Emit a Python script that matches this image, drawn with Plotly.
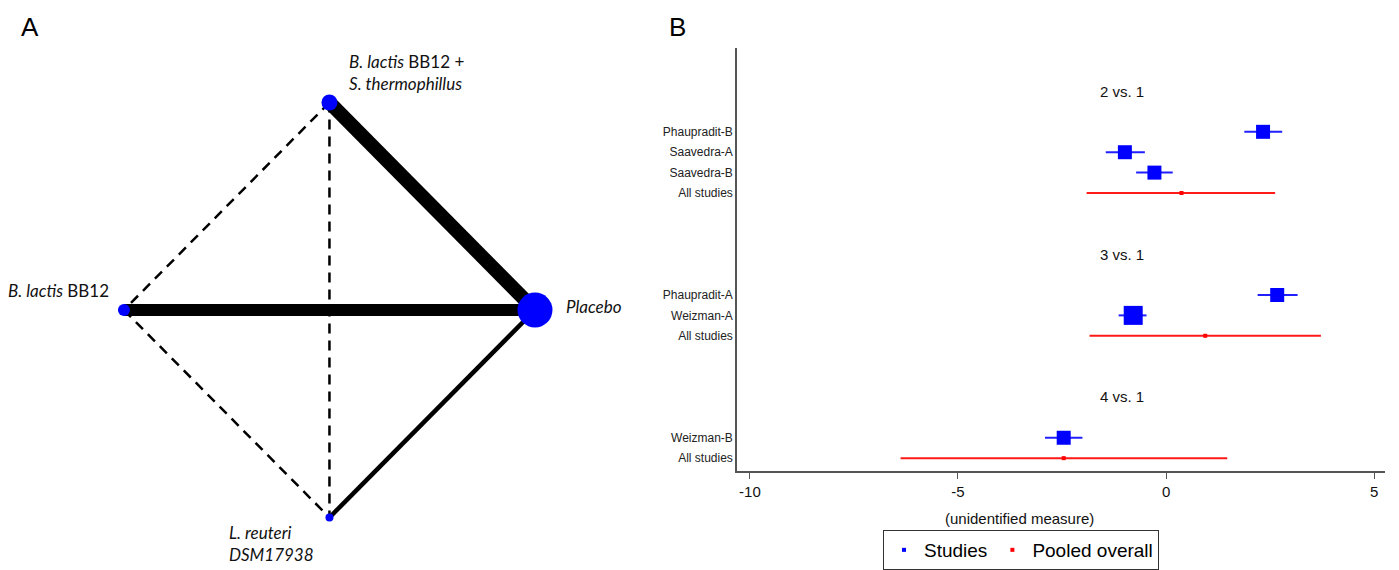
import plotly.graph_objects as go

# ---------------- Panel A: treatment network ----------------
node_names = ["B. lactis BB12 + S. thermophillus", "B. lactis BB12", "Placebo", "L. reuteri DSM17938"]
node_x = [0.0, -1.0, 1.0, 0.0]
node_y = [1.0, 0.0, 0.0, -1.0]
node_size = [16, 12, 35, 8]

# edges: (from node, to node, line width, dashed = indirect comparison)
edge_from = [0, 1, 3, 0, 0, 1]
edge_to = [2, 2, 2, 1, 3, 3]
edge_width = [14, 12, 4.5, 2.5, 2.5, 2.5]
edge_dashed = [False, False, False, True, True, True]

# ---------------- Panel B: forest plot ----------------
study_labels = ["Phaupradit-B", "Saavedra-A", "Saavedra-B",
                "Phaupradit-A", "Weizman-A", "Weizman-B"]
study_rows = [2, 3, 4, 10, 11, 17]
study_est = [2.33, -0.99, -0.28, 2.67, -0.79, -2.46]
study_lo = [1.88, -1.45, -0.72, 2.20, -1.14, -2.91]
study_hi = [2.79, -0.51, 0.16, 3.16, -0.47, -2.01]
study_marker = [14, 14, 14, 14, 19, 14]

pooled_rows = [5, 12, 18]
pooled_est = [0.37, 0.94, -2.46]
pooled_lo = [-1.91, -1.84, -6.38]
pooled_hi = [2.62, 3.72, 1.47]

group_titles = ["2 vs. 1", "3 vs. 1", "4 vs. 1"]
group_rows = [0, 8, 15]

x_ticks = [-10, -5, 0, 5]
x_tick_text = ["-10", "-5", "0", "5"]

W, H = 1399, 570


def px(x):
    return x / W


def py(y):
    return 1 - y / H


fig = go.Figure()

# network edges
for a, b, w, d in zip(edge_from, edge_to, edge_width, edge_dashed):
    fig.add_trace(go.Scatter(
        x=[node_x[a], node_x[b]], y=[node_y[a], node_y[b]],
        mode="lines", xaxis="x", yaxis="y", showlegend=False, hoverinfo="skip",
        line=dict(color="black", width=w, dash="10px,7px" if d else "solid"),
    ))

# network nodes
fig.add_trace(go.Scatter(
    x=node_x, y=node_y, mode="markers", xaxis="x", yaxis="y",
    text=node_names, hoverinfo="text", showlegend=False,
    marker=dict(color="#0000ff", size=node_size, opacity=1, line=dict(width=0)),
))

# individual studies
fig.add_trace(go.Scatter(
    x=study_est, y=study_rows, mode="markers", xaxis="x2", yaxis="y2",
    showlegend=False,
    marker=dict(symbol="square", color="#0000ff", size=study_marker, opacity=1, line=dict(width=0)),
    error_x=dict(type="data", symmetric=False,
                 array=[h - e for h, e in zip(study_hi, study_est)],
                 arrayminus=[e - l for e, l in zip(study_est, study_lo)],
                 color="#2020ff", thickness=2, width=0),
))

# pooled estimates
fig.add_trace(go.Scatter(
    x=pooled_est, y=pooled_rows, mode="markers", xaxis="x2", yaxis="y2",
    showlegend=False,
    marker=dict(symbol="square", color="#ff0000", size=4, opacity=1, line=dict(width=0)),
    error_x=dict(type="data", symmetric=False,
                 array=[h - e for h, e in zip(pooled_hi, pooled_est)],
                 arrayminus=[e - l for e, l in zip(pooled_est, pooled_lo)],
                 color="#ff1a1a", thickness=2, width=0),
))

# legend entries
fig.add_trace(go.Scatter(x=[None], y=[None], mode="markers", xaxis="x2", yaxis="y2",
                         name="Studies", marker=dict(symbol="square", color="#0000ff", size=4, opacity=1)))
fig.add_trace(go.Scatter(x=[None], y=[None], mode="markers", xaxis="x2", yaxis="y2",
                         name="Pooled overall", marker=dict(symbol="square", color="#ff0000", size=4, opacity=1)))

annotations = []

# panel letters
for letter, x in (("A", 30), ("B", 677)):
    annotations.append(dict(text=letter, x=px(x), y=py(27), xref="paper", yref="paper",
                            showarrow=False, xanchor="center", yanchor="middle",
                            font=dict(family="Liberation Sans", size=26, color="black")))

# node labels
node_font = dict(family="Lato", size=17, color="#111")
node_labels = [
    dict(text="<i>B. lactis</i> BB12 +<br><i>S. thermophillus</i>", x=px(347), y=py(73),
         xanchor="left", yanchor="middle", align="left"),
    dict(text="<i>B. lactis</i> BB12", x=px(111), y=py(290),
         xanchor="right", yanchor="middle", align="right"),
    dict(text="<i>Placebo</i>", x=px(564), y=py(306),
         xanchor="left", yanchor="middle", align="left"),
    dict(text="<i>L. reuteri</i><br><i>DSM17938</i>", x=px(227), y=py(543),
         xanchor="left", yanchor="middle", align="left"),
]
for a in node_labels:
    a.update(xref="paper", yref="paper", showarrow=False, font=node_font)
annotations += node_labels

# comparison headers
for t, r in zip(group_titles, group_rows):
    annotations.append(dict(text=t, x=-1.05, y=r, xref="x2", yref="y2", showarrow=False,
                            xanchor="center", yanchor="middle",
                            font=dict(family="Liberation Sans", size=15, color="#111")))

# x-axis caption
annotations.append(dict(text="(unidentified measure)", x=px(1019), y=py(518),
                        xref="paper", yref="paper", showarrow=False,
                        xanchor="center", yanchor="middle",
                        font=dict(family="Liberation Sans", size=15, color="#111")))

row_vals = study_rows + pooled_rows
row_text = study_labels + ["All studies"] * len(pooled_rows)

fig.update_layout(
    width=W, height=H,
    margin=dict(l=0, r=0, t=0, b=0),
    paper_bgcolor="white", plot_bgcolor="white",
    annotations=annotations,
    xaxis=dict(domain=[0, px(640)], range=[-1.603, 1.511], visible=False, fixedrange=True),
    yaxis=dict(domain=[0, 1], range=[-1.253, 1.494], visible=False, fixedrange=True),
    xaxis2=dict(domain=[px(737), px(1385)], range=[-10.31, 5.26], anchor="y2",
                showline=True, linecolor="#555", linewidth=1.5,
                ticks="outside", ticklen=6, tickwidth=1.2, tickcolor="#555",
                tickvals=x_ticks, ticktext=x_tick_text, showgrid=False, zeroline=False,
                tickfont=dict(family="Liberation Sans", size=15, color="#111")),
    yaxis2=dict(domain=[py(471), py(48)], range=[18.63, -2.11], anchor="x2",
                showline=True, linecolor="#555", linewidth=1.5,
                tickvals=row_vals, ticktext=row_text, ticks="",
                showgrid=False, zeroline=False,
                tickfont=dict(family="Liberation Sans", size=12, color="#222")),
    legend=dict(orientation="h", x=px(1021), xanchor="center", y=py(550), yanchor="middle",
                bordercolor="#333", borderwidth=1, bgcolor="white",
                font=dict(family="Liberation Sans", size=19, color="black"),
                itemwidth=30),
)

fig.write_html("out.html")
